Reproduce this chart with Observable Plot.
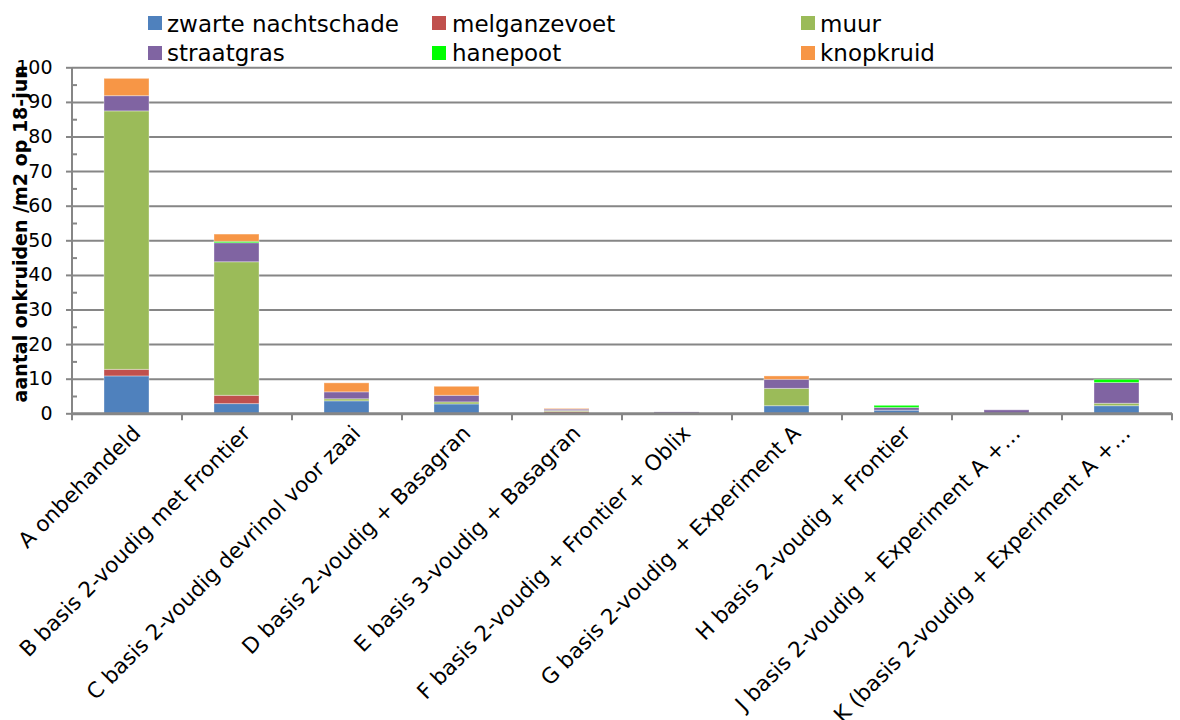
<!DOCTYPE html>
<html>
<head>
<meta charset="utf-8">
<script src="https://cdn.jsdelivr.net/npm/d3@7"></script>
<script src="https://cdn.jsdelivr.net/npm/@observablehq/plot@0.6"></script>
<style>
  html, body { margin: 0; padding: 0; background: white; }
  body { width: 1180px; height: 720px; overflow: hidden; font-family: "DejaVu Sans", Verdana, sans-serif; }
  #legend { position: relative; height: 56px; width: 1180px; }
  .sw { position: absolute; width: 14px; height: 14px; }
  .lt { position: absolute; font-size: 23px; line-height: 23px; color: #000; white-space: nowrap; }
</style>
</head>
<body>
<div id="legend"></div>
<div id="chart"></div>
<script>
const categories = [
  "A onbehandeld",
  "B basis 2-voudig met Frontier",
  "C basis 2-voudig devrinol voor zaai",
  "D basis 2-voudig + Basagran",
  "E basis 3-voudig + Basagran",
  "F basis 2-voudig + Frontier + Oblix",
  "G basis 2-voudig + Experiment A",
  "H basis 2-voudig + Frontier",
  "J basis 2-voudig + Experiment A +…",
  "K (basis 2-voudig + Experiment A +…"
];
const seriesNames = ["zwarte nachtschade", "melganzevoet", "muur", "straatgras", "hanepoot", "knopkruid"];
const seriesColors = ["#4F81BD", "#C0504D", "#9BBB59", "#8064A2", "#00FF00", "#F79646"];

const zwarteNachtschade = [10.8, 2.8, 3.6, 2.7, 0.0, 0.0, 2.2, 0.9, 0.0, 2.2];
const melganzevoet      = [1.9, 2.4, 0.0, 0.0, 0.5, 0.0, 0.0, 0.0, 0.0, 0.0];
const muur              = [74.7, 38.6, 0.6, 0.6, 0.3, 0.0, 5.0, 0.0, 0.0, 0.7];
const straatgras        = [4.4, 5.5, 2.0, 1.9, 0.4, 0.4, 2.6, 0.8, 1.0, 6.0];
const hanepoot          = [0.0, 0.4, 0.0, 0.0, 0.0, 0.0, 0.0, 0.6, 0.0, 0.9];
const knopkruid         = [5.0, 2.1, 2.6, 2.6, 0.2, 0.0, 1.0, 0.0, 0.0, 0.0];

const yTicks = [0, 10, 20, 30, 40, 50, 60, 70, 80, 90, 100];
const yMinorTicks = [5, 15, 25, 35, 45, 55, 65, 75, 85, 95];
const yTitle = "aantal onkruiden /m2 op 18-jun";

const seriesValues = [zwarteNachtschade, melganzevoet, muur, straatgras, hanepoot, knopkruid];
const rows = [];
categories.forEach((c, i) => {
  seriesNames.forEach((s, j) => rows.push({cat: c, series: s, value: seriesValues[j][i]}));
});

// legend
const legendPos = [[148, 167, 16, 12.5], [432, 452, 16, 12.5], [801, 820, 16, 12.5],
                   [148, 167, 46, 41.5], [432, 452, 46, 41.5], [801, 820, 46, 41.5]];
const legend = document.getElementById("legend");
seriesNames.forEach((name, k) => {
  const p = legendPos[k];
  const sw = document.createElement("div");
  sw.className = "sw";
  sw.style.left = p[0] + "px"; sw.style.top = p[2] + "px";
  sw.style.background = seriesColors[k];
  legend.appendChild(sw);
  const t = document.createElement("div");
  t.className = "lt";
  t.style.left = p[1] + "px"; t.style.top = p[3] + "px";
  t.textContent = name;
  legend.appendChild(t);
});

const gridColor = "#868686";
const chart = Plot.plot({
  width: 1180,
  height: 664,
  marginLeft: 72,
  marginRight: 8,
  marginTop: 11.3,
  marginBottom: 306.7,
  style: {fontFamily: "DejaVu Sans, Verdana, sans-serif", fontSize: "19px", background: "white", color: "black", overflow: "visible"},
  x: {domain: categories, paddingInner: 0.59, paddingOuter: 0.295, axis: null},
  y: {domain: [0, 100], axis: null},
  color: {domain: seriesNames, range: seriesColors},
  marks: [
    Plot.ruleY(yTicks.filter(d => d > 0), {stroke: gridColor, strokeWidth: 2}),
    Plot.barY(rows, {x: "cat", y: "value", fill: "series", stroke: "white", strokeOpacity: 0.35, strokeWidth: 1}),
    Plot.ruleY([0], {stroke: gridColor, strokeWidth: 3}),
    Plot.ruleX([categories[0]], {y1: 0, y2: 100, dx: -55, stroke: gridColor, strokeWidth: 2}),
    Plot.ruleX(categories, {y1: 0, y2: 0, insetBottom: -7, dx: -55, stroke: gridColor, strokeWidth: 2}),
    Plot.ruleX([categories[categories.length - 1]], {y1: 0, y2: 0, insetBottom: -7, dx: 55, stroke: gridColor, strokeWidth: 2}),
    Plot.axisY(yTicks, {tickSize: 6, tickPadding: 14, stroke: gridColor, strokeWidth: 2, fill: "black", fontSize: 19, label: null}),
    Plot.axisY(yMinorTicks, {tickSize: -5, text: null, stroke: gridColor, strokeWidth: 2, label: null}),
    Plot.text(categories, {x: d => d, y: () => 0, dx: 4, dy: 10, rotate: -45, textAnchor: "end", lineAnchor: "top", fontSize: 21.5, fill: "black"}),
    Plot.text([yTitle], {frameAnchor: "left", rotate: -90, dx: -52, dy: -7, textAnchor: "middle", fontWeight: "bold", fontSize: 19, fill: "black"})
  ]
});
document.getElementById("chart").appendChild(chart);
</script>
</body>
</html>
